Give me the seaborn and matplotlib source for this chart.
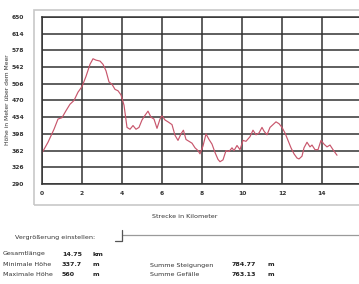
import matplotlib
matplotlib.use("Agg")
import matplotlib.pyplot as plt
import seaborn as sns
import pandas as pd
from matplotlib.patches import Rectangle
from matplotlib.lines import Line2D

# Data
km = [0.0, 0.3, 0.6, 0.8, 1.0, 1.2, 1.4, 1.6, 1.8, 2.0, 2.2, 2.4, 2.55, 2.7, 2.9,
      3.05, 3.2, 3.35, 3.5, 3.65, 3.8, 3.95, 4.1, 4.25, 4.4, 4.55, 4.7, 4.85, 5.0,
      5.15, 5.3, 5.45, 5.6, 5.75, 5.9, 6.0, 6.15, 6.3, 6.5, 6.65, 6.8, 6.95, 7.07,
      7.2, 7.35, 7.5, 7.65, 7.8, 7.9, 8.05, 8.2, 8.35, 8.5, 8.65, 8.8, 8.9, 9.05,
      9.2, 9.35, 9.5, 9.6, 9.75, 9.9, 10.05, 10.2, 10.4, 10.55, 10.7, 10.85, 11.0,
      11.1, 11.25, 11.4, 11.55, 11.7, 11.85, 12.0, 12.15, 12.3, 12.45, 12.6, 12.75,
      12.85, 13.0, 13.1, 13.25, 13.4, 13.5, 13.65, 13.8, 13.95, 14.1, 14.25, 14.4,
      14.55, 14.75]
hoehe = [357, 380, 408, 430, 433, 448, 462, 470, 488, 500, 522, 548, 560, 557, 555,
         548, 534, 510, 505, 494, 491, 482, 460, 412, 408, 416, 408, 412, 428,
         438, 447, 434, 430, 410, 430, 437, 428, 424, 418, 395, 384, 398, 406,
         386, 382, 378, 368, 362, 355, 372, 398, 386, 376, 358, 343, 338, 342,
         362, 360, 368, 362, 373, 364, 384, 382, 392, 406, 396, 400, 412,
         404, 396, 412, 418, 424, 420, 412, 400, 384, 368, 355, 346,
         344, 350, 368, 380, 370, 374, 364, 364, 384, 376, 370, 374,
         364, 352]

y_ticks = [290, 326, 362, 398, 434, 470, 506, 542, 578, 614, 650]
x_ticks = [0, 2, 4, 6, 8, 10, 12, 14, 16]
x_labels = ["0", "2", "4", "6", "8", "10", "12", "14", ""]

stats_left = [("Gesamtlänge", "14.75", "km"),
              ("Minimale Höhe", "337.7", "m"),
              ("Maximale Höhe", "560", "m")]
stats_right = [("Summe Steigungen", "784.77", "m"),
               ("Summe Gefälle", "763.13", "m")]

df = pd.DataFrame({"km": km, "hoehe": hoehe})

sns.set_style("white")
plt.rcParams["font.family"] = ["DejaVu Sans"]

W, H = 359, 284
fig = plt.figure(figsize=(W / 100, H / 100), dpi=100)
fig.patch.set_facecolor("white")

# light outer frame around the chart
fig.patches.append(Rectangle((34 / W, 1 - 205 / H), 330 / W, 195 / H,
                             transform=fig.transFigure, fill=False,
                             edgecolor="#c8c8c8", lw=1.2))

ax = fig.add_axes([42 / W, 1 - 184 / H, 320 / W, 167 / H])
sns.lineplot(data=df, x="km", y="hoehe", ax=ax, color="#c8566c", lw=0.85)

ax.set_xlim(0, 16)
ax.set_ylim(290, 650)
ax.set_xticks(x_ticks)
ax.set_xticklabels(x_labels)
ax.set_yticks(y_ticks)
ax.set_yticklabels([str(t) for t in y_ticks])
ax.grid(True, color="#333333", lw=1.1)
ax.set_axisbelow(True)
for s in ax.spines.values():
    s.set_color("#333333")
    s.set_linewidth(1.1)
ax.tick_params(axis="both", labelsize=4.3, colors="#333333", length=3,
               width=1, pad=2)
ax.tick_params(axis="y", length=0, pad=13)
for lbl in ax.get_xticklabels() + ax.get_yticklabels():
    lbl.set_fontweight("bold")
ax.set_xlabel("")
ax.set_ylabel("")

fig.text(8 / W, 1 - 100 / H, "Höhe in Meter über dem Meer", rotation=90,
         fontsize=4.3, ha="center", va="center", color="#333333")
fig.text(185 / W, 1 - 217 / H, "Strecke in Kilometer", fontsize=4.6,
         ha="center", va="center", color="#333333")

# zoom slider
fig.text(15 / W, 1 - 238 / H, "Vergrößerung einstellen:", fontsize=4.6,
         ha="left", va="center", color="#333333")
fig.lines.append(Line2D([122 / W, 1.0], [1 - 235 / H, 1 - 235 / H],
                        transform=fig.transFigure, color="#9a9a9a", lw=0.9))
fig.lines.append(Line2D([115 / W, 122 / W, 122 / W],
                        [1 - 241 / H, 1 - 241 / H, 1 - 230 / H],
                        transform=fig.transFigure, color="#555555", lw=0.9))

# statistics
for i, (name, val, unit) in enumerate(stats_left):
    y = 1 - (254 + 10 * i) / H
    fig.text(3 / W, y, name, fontsize=4.6, va="center", color="#333333")
    fig.text(62 / W, y, val, fontsize=4.6, va="center", color="#222222",
             fontweight="bold")
    fig.text(93 / W, y, unit, fontsize=4.6, va="center", color="#222222",
             fontweight="bold")
for i, (name, val, unit) in enumerate(stats_right):
    y = 1 - (265 + 9 * i) / H
    fig.text(150 / W, y, name, fontsize=4.6, va="center", color="#333333")
    fig.text(232 / W, y, val, fontsize=4.6, va="center", color="#222222",
             fontweight="bold")
    fig.text(268 / W, y, unit, fontsize=4.6, va="center", color="#222222",
             fontweight="bold")

fig.savefig("out.png", dpi=100)
plt.close(fig)
